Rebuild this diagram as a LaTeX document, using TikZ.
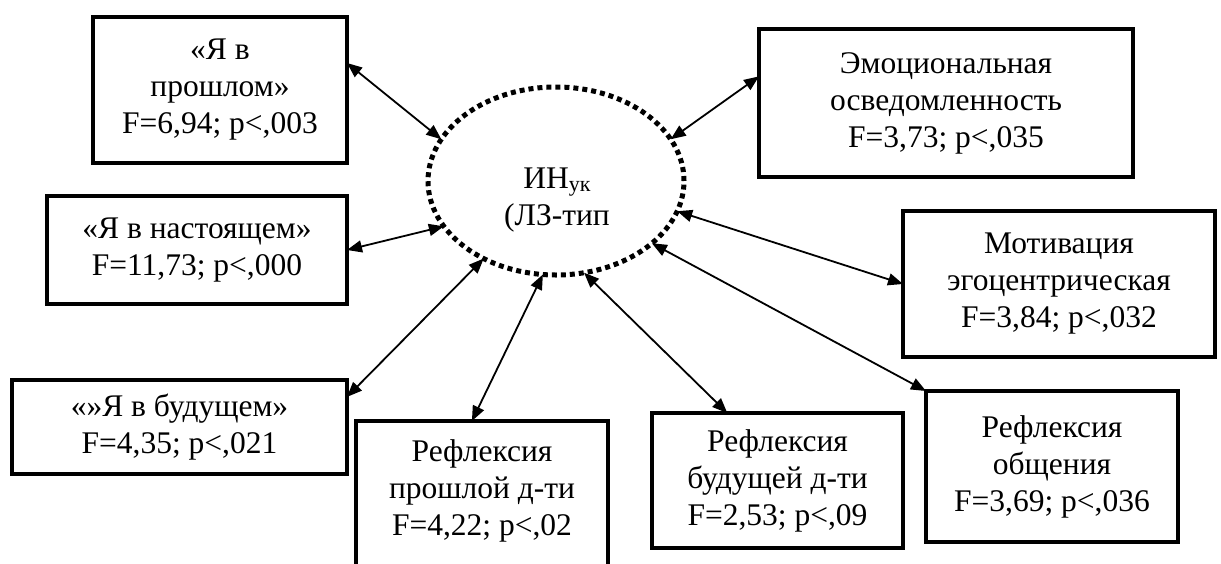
\documentclass[tikz,border=0pt]{standalone}
\usepackage{fontspec}
\setmainfont{Liberation Serif}
\usetikzlibrary{arrows.meta,calc,shapes.geometric}

\newcommand\boxfont{\fontsize{31.5}{37}\selectfont}
\newcommand\subfont{\fontsize{22}{22}\selectfont}

\begin{document}
\begin{tikzpicture}[x=1pt,y=-1pt,
  box/.style={draw, line width=3.5pt, inner sep=0pt, outer sep=0pt,
    align=center, font=\boxfont},
  txt/.style={align=center, font=\boxfont, inner sep=0pt},
  link/.style={line width=1.8pt,
    {Triangle[length=15pt,width=12pt]}-{Triangle[length=15pt,width=12pt]}},
  core/.style={ellipse, draw, line width=5pt, dash pattern=on 5pt off 4pt,
    minimum width=256pt, minimum height=188pt, inner sep=0pt, outer sep=0pt}]

  % canvas
  \fill[white] (0,0) rectangle (1221,563);
  \useasboundingbox (0,0) rectangle (1221,563);

  % central element
  \node[core] (core) at (556,181) {};
  \node[txt] (corelabel) at (557,200) {ИН{\subfont\raisebox{-3pt}{ук}}\\(ЛЗ-тип};

  % surrounding factors
  \node[box, minimum width=254pt, minimum height=146pt] (past) at (220,90)
    {«Я в\\прошлом»\\F=6,94; p<,003};
  \node[box, minimum width=300pt, minimum height=108pt] (present) at (197,250)
    {«Я в настоящем»\\F=11,73; p<,000};
  \node[box, minimum width=374pt, minimum height=148pt] (emo) at (946,103)
    {Эмоциональная\\осведомленность\\F=3,73; p<,035};
  \node[box, minimum width=312pt, minimum height=146pt] (motiv) at (1059,284)
    {Мотивация\\эгоцентрическая\\F=3,84; p<,032};
  \node[box, minimum width=335pt, minimum height=94pt] (future) at (179.5,427)
    {«»Я в будущем»\\F=4,35; p<,021};
  \node[box, minimum width=252pt, minimum height=170pt] (refpast) at (482,506) {};
  \node[txt] (refpasttext) at (482,491)
    {Рефлексия\\прошлой д-ти\\F=4,22; p<,02};
  \node[box, minimum width=251pt, minimum height=135pt] (reffut) at (777.5,480.5)
    {Рефлексия\\будущей д-ти\\F=2,53; p<,09};
  \node[box, minimum width=252pt, minimum height=151pt] (refcomm) at (1052,466.5)
    {Рефлексия\\общения\\F=3,69; p<,036};

  % two-way links
  \draw[link] ($(past.north east)!0.315!(past.south east)$) -- (core.160);
  \draw[link] ($(emo.north west)!0.32!(emo.south west)$) -- (core.20);
  \draw[link] (present.east) -- (core.202);
  \draw[link] ($(future.north east)!0.18!(future.south east)$) -- (core.227);
  \draw[link] ($(refpast.north west)!0.46!(refpast.north east)$) -- (core.262);
  \draw[link] ($(reffut.north west)!0.30!(reffut.north east)$) -- (core.287);
  \draw[link] (refcomm.north west) -- (core.327);
  \draw[link] (motiv.west) -- (core.346);
\end{tikzpicture}
\end{document}
